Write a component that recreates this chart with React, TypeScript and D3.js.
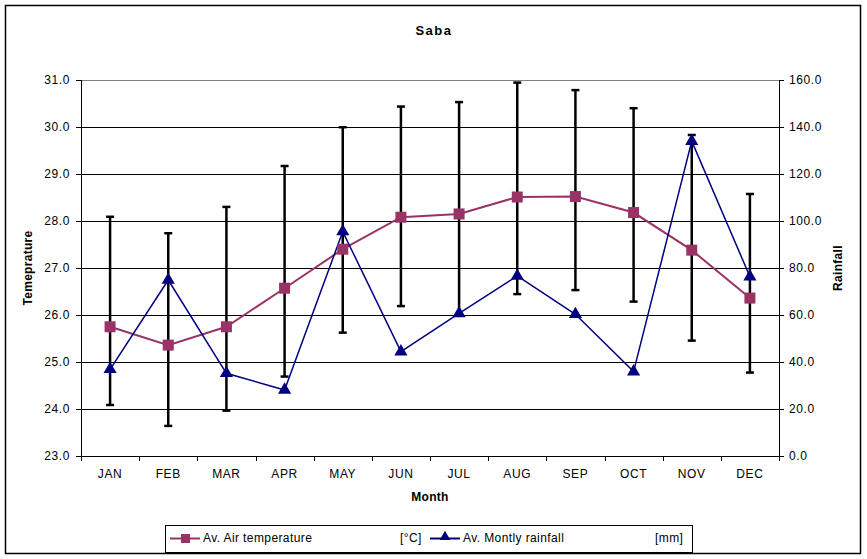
import React from "react";
import * as d3 from "d3";

const months = ["JAN", "FEB", "MAR", "APR", "MAY", "JUN", "JUL", "AUG", "SEP", "OCT", "NOV", "DEC"];
const temperature = [25.75, 25.36, 25.75, 26.57, 27.4, 28.08, 28.15, 28.51, 28.52, 28.18, 27.38, 26.36];
const rainfall = [36.9, 74.9, 35.2, 28.1, 95.5, 44.4, 60.7, 76.6, 60.3, 35.9, 134.0, 76.3];
const rainHigh = [101.8, 94.8, 106.0, 123.4, 139.9, 148.7, 150.6, 158.9, 155.7, 148.0, 136.6, 111.5];
const rainLow = [21.7, 12.8, 19.3, 33.8, 52.5, 63.8, 60.0, 68.9, 70.6, 65.7, 49.1, 35.5];
const leftTicks = [23, 24, 25, 26, 27, 28, 29, 30, 31];
const rightTicks = [0, 20, 40, 60, 80, 100, 120, 140, 160];

const TEMP_COLOR = "#993366";
const RAIN_COLOR = "#000080";
const FONT = "'Liberation Sans', Arial, Helvetica, sans-serif";

export default function App() {
  const W = 867, H = 559;
  const left = 81, right = 779, top = 80, bottom = 456;

  const x = d3.scaleBand<string>().domain(months).range([left, right]).padding(0);
  const cx = (m: string) => (x(m) as number) + x.bandwidth() / 2;
  const yL = d3.scaleLinear().domain([23, 31]).range([bottom, top]);
  const yR = d3.scaleLinear().domain([0, 160]).range([bottom, top]);

  const tempLine = d3.line<number>().x((_, i) => cx(months[i])).y((d) => yL(d))(temperature) || "";
  const rainLine = d3.line<number>().x((_, i) => cx(months[i])).y((d) => yR(d))(rainfall) || "";

  const tri = d3.symbol().type(d3.symbolTriangle).size(75)() || "";

  const tickFont = { fontFamily: FONT, fontSize: 12, letterSpacing: 0.6 } as React.CSSProperties;

  return (
    <svg width={W} height={H} style={{ position: "absolute", left: 0, top: 0, background: "#fff" }}>
      <rect x={0} y={0} width={W} height={H} fill="#fff" />
      <rect x={5.5} y={5.5} width={855} height={548} fill="#fff" stroke="#000" strokeWidth={1.5} />

      <text x={434} y={35} textAnchor="middle" style={{ fontFamily: FONT, fontSize: 13, fontWeight: "bold", letterSpacing: 1.5 }}>
        Saba
      </text>

      {/* gridlines */}
      {leftTicks.map((t) => (
        <line key={"g" + t} x1={left} x2={right} y1={Math.round(yL(t)) + 0.5} y2={Math.round(yL(t)) + 0.5}
          stroke={t === 31 ? "#808080" : "#000"} strokeWidth={1} />
      ))}

      {/* left axis */}
      <line x1={left + 0.5} x2={left + 0.5} y1={top} y2={bottom} stroke="#000" />
      {leftTicks.map((t) => (
        <g key={"lt" + t}>
          <line x1={left - 5} x2={left} y1={Math.round(yL(t)) + 0.5} y2={Math.round(yL(t)) + 0.5} stroke="#000" />
          <text x={70} y={yL(t)} dy="0.35em" textAnchor="end" style={tickFont}>{t.toFixed(1)}</text>
        </g>
      ))}

      {/* right axis */}
      <line x1={right + 0.5} x2={right + 0.5} y1={top} y2={bottom} stroke="#000" />
      {rightTicks.map((t) => (
        <g key={"rt" + t}>
          <line x1={right} x2={right + 5} y1={Math.round(yR(t)) + 0.5} y2={Math.round(yR(t)) + 0.5} stroke="#000" />
          <text x={789} y={yR(t)} dy="0.35em" textAnchor="start" style={tickFont}>{t.toFixed(1)}</text>
        </g>
      ))}

      {/* x axis */}
      <line x1={left} x2={right} y1={bottom + 0.5} y2={bottom + 0.5} stroke="#000" />
      {months.map((m, i) => (
        <line key={"xt" + m} x1={Math.round((x(m) as number)) + 0.5} x2={Math.round((x(m) as number)) + 0.5}
          y1={bottom} y2={bottom + 5} stroke="#000" />
      ))}
      <line x1={right + 0.5} x2={right + 0.5} y1={bottom} y2={bottom + 5} stroke="#000" />
      {months.map((m) => (
        <text key={"xl" + m} x={cx(m)} y={474} dy="0.35em" textAnchor="middle" style={tickFont}>{m}</text>
      ))}

      <text x={430} y={497} dy="0.35em" textAnchor="middle" style={{ fontFamily: FONT, fontSize: 12, fontWeight: "bold", letterSpacing: 0.3 }}>Month</text>
      <text transform={`translate(28,268) rotate(-90)`} dy="0.35em" textAnchor="middle" style={{ fontFamily: FONT, fontSize: 12, fontWeight: "bold", letterSpacing: 0.3 }}>Temeprature</text>
      <text transform={`translate(838,268) rotate(-90)`} dy="0.35em" textAnchor="middle" style={{ fontFamily: FONT, fontSize: 12, fontWeight: "bold", letterSpacing: 0.3 }}>Rainfall</text>

      {/* error bars */}
      {months.map((m, i) => {
        const xx = cx(m);
        const y1 = yR(rainHigh[i]);
        const y2 = yR(rainLow[i]);
        return (
          <g key={"eb" + m} stroke="#000" strokeWidth={2.5}>
            <line x1={xx} x2={xx} y1={y1} y2={y2} />
            <line x1={xx - 4} x2={xx + 4} y1={y1} y2={y1} />
            <line x1={xx - 4} x2={xx + 4} y1={y2} y2={y2} />
          </g>
        );
      })}

      {/* lines */}
      <path d={tempLine} fill="none" stroke={TEMP_COLOR} strokeWidth={2} />
      <path d={rainLine} fill="none" stroke={RAIN_COLOR} strokeWidth={1.5} />

      {/* markers */}
      {temperature.map((v, i) => (
        <rect key={"sq" + i} x={cx(months[i]) - 5.5} y={yL(v) - 5.5} width={11} height={11} fill={TEMP_COLOR} />
      ))}
      {rainfall.map((v, i) => (
        <path key={"tr" + i} d={tri} transform={`translate(${cx(months[i])},${yR(v)})`} fill={RAIN_COLOR} />
      ))}

      {/* legend */}
      <rect x={165.5} y={525.5} width={527} height={27} fill="#fff" stroke="#000" strokeWidth={1} />
      <line x1={170} x2={200} y1={538.5} y2={538.5} stroke={TEMP_COLOR} strokeWidth={2} />
      <rect x={181} y={534} width={9} height={9} fill={TEMP_COLOR} />
      <text x={203} y={538} dy="0.35em" style={{ fontFamily: FONT, fontSize: 12, letterSpacing: 0.4 }}>Av. Air temperature</text>
      <text x={400} y={538} dy="0.35em" style={{ fontFamily: FONT, fontSize: 12, letterSpacing: 0.4 }}>[°C]</text>
      <line x1={430} x2={460} y1={538.5} y2={538.5} stroke={RAIN_COLOR} strokeWidth={2} />
      <path d={d3.symbol().type(d3.symbolTriangle).size(50)() || ""} transform="translate(445,537)" fill={RAIN_COLOR} />
      <text x={463} y={538} dy="0.35em" style={{ fontFamily: FONT, fontSize: 12, letterSpacing: 0.4 }}>Av. Montly rainfall</text>
      <text x={655} y={538} dy="0.35em" style={{ fontFamily: FONT, fontSize: 12, letterSpacing: 0.4 }}>[mm]</text>
    </svg>
  );
}
